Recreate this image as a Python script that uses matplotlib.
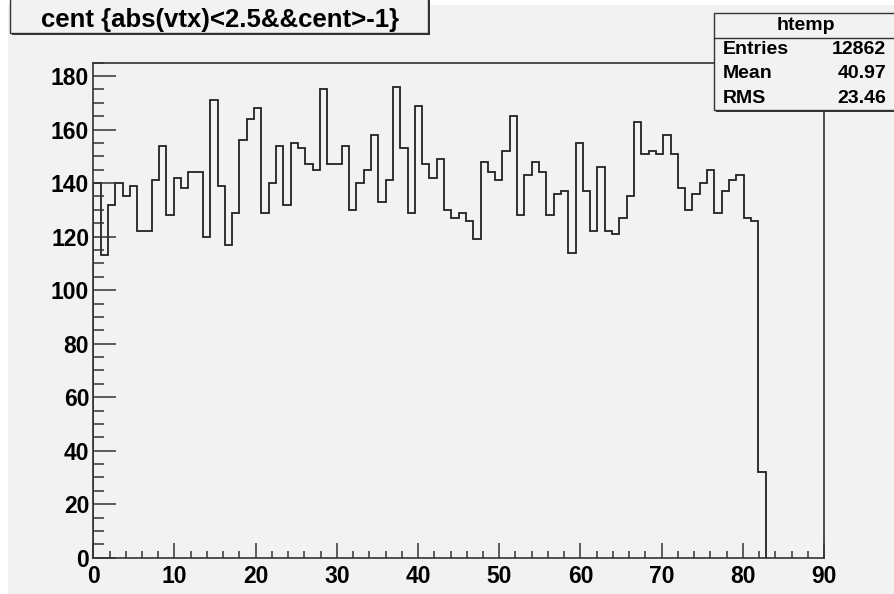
import numpy as np
import matplotlib.pyplot as plt
from matplotlib.patches import Rectangle
from matplotlib.ticker import MultipleLocator

# bin contents (100 bins over 0..90, 92 filled)
counts = [140, 113, 132, 140, 135, 139, 122, 122, 141, 154,
          128, 142, 138, 144, 144, 120, 171, 139, 117, 129,
          156, 164, 168, 129, 140, 154, 132, 155, 153, 147,
          145, 175, 147, 147, 154, 130, 140, 145, 158, 133,
          141, 176, 153, 129, 169, 147, 142, 149, 130, 127,
          129, 126, 119, 148, 144, 141, 152, 165, 128, 143,
          148, 144, 128, 136, 137, 114, 155, 137, 122, 146,
          122, 121, 127, 135, 163, 151, 152, 151, 158, 151,
          138, 130, 136, 140, 145, 129, 137, 141, 143, 127,
          126, 32]
nbins, xmin, xmax = 100, 0, 90
title = "cent {abs(vtx)<2.5&&cent>-1}"
stats_name = "htemp"
stats_rows = [("Entries", "12862"), ("Mean", "40.97"), ("RMS", "23.46")]

edges = np.linspace(xmin, xmax, nbins + 1)[:len(counts) + 1]

W, H = 894, 594
bg = "#f2f2f2"
plt.rcParams['font.family'] = ['Liberation Sans', 'DejaVu Sans']
plt.rcParams['font.weight'] = 'bold'

fig = plt.figure(figsize=(W / 100, H / 100), dpi=100, facecolor="white")

def fx(px):
    return px / W

def fy(py):
    return 1 - py / H

# grey canvas (screenshot has a thin white margin top/left)
fig.patches.append(Rectangle((fx(8), 0), 1, fy(5), transform=fig.transFigure,
                             facecolor=bg, edgecolor="none", zorder=-10))

left, right, top, bottom = 93.3, 824, 62.7, 557.7
ax = fig.add_axes([fx(left), fy(bottom), fx(right - left), (bottom - top) / H])
ax.set_facecolor(bg)
ax.stairs(counts, edges, color="#222222", linewidth=1.3)
ax.set_xlim(xmin, xmax)
ax.set_ylim(0, 185)

ax.xaxis.set_major_locator(MultipleLocator(10))
ax.xaxis.set_minor_locator(MultipleLocator(2))
ax.yaxis.set_major_locator(MultipleLocator(20))
ax.yaxis.set_minor_locator(MultipleLocator(5))
ax.tick_params(axis="x", which="major", direction="in", length=11, width=1.1,
               color="#333333", labelsize=16.5, pad=5)
ax.tick_params(axis="x", which="minor", direction="in", length=5, width=1.1, color="#333333")
ax.tick_params(axis="y", which="major", direction="in", length=16.5, width=1.1,
               color="#333333", labelsize=16.5, pad=3)
ax.tick_params(axis="y", which="minor", direction="in", length=8, width=1.1, color="#333333")
for lab in ax.get_xticklabels() + ax.get_yticklabels():
    lab.set_fontweight("bold")
for s in ax.spines.values():
    s.set_color("#333333")
    s.set_linewidth(1.2)

# boxes with a ROOT-style shadow
def box(x0, y0, x1, y1, z=5):
    fig.patches.append(Rectangle((fx(x0 + 2), fy(y1 + 2)), fx(x1 - x0), (y1 - y0) / H,
                                 transform=fig.transFigure, facecolor="#333333",
                                 edgecolor="none", zorder=z))
    fig.patches.append(Rectangle((fx(x0), fy(y1)), fx(x1 - x0), (y1 - y0) / H,
                                 transform=fig.transFigure, facecolor=bg,
                                 edgecolor="#333333", linewidth=1.0, zorder=z + 1))

box(10, -20, 428, 33)
fig.text(fx(220), fy(20), title, ha="center", va="center", fontsize=18.5,
         fontweight="bold", zorder=10)

# stats box
box(714, 13.3, 900, 110, z=5)
fig.add_artist(plt.Line2D([fx(714), fx(900)], [fy(37.7), fy(37.7)],
                          transform=fig.transFigure, color="#333333", lw=1.0, zorder=8))
fig.text(fx(806), fy(25.5), stats_name, ha="center", va="center", fontsize=14,
         fontweight="bold", zorder=10)
for i, (k, v) in enumerate(stats_rows):
    yy = fy(49.5 + i * 24.5)
    fig.text(fx(723), yy, k, ha="left", va="center", fontsize=14, fontweight="bold", zorder=10)
    fig.text(fx(886), yy, v, ha="right", va="center", fontsize=14, fontweight="bold", zorder=10)

fig.savefig("out.png", dpi=100, facecolor="white")
